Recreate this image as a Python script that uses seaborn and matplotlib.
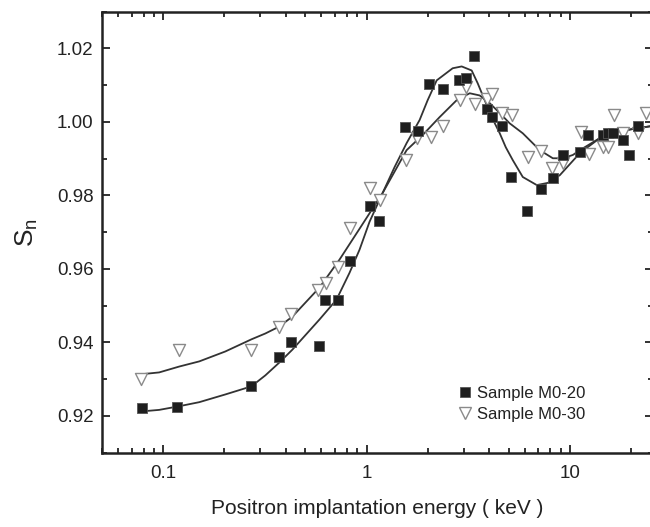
import numpy as np
import pandas as pd
import matplotlib
matplotlib.use("Agg")
import matplotlib.pyplot as plt
from matplotlib.lines import Line2D
from matplotlib.ticker import FixedLocator, MultipleLocator, LogLocator, NullFormatter
import seaborn as sns

# ---- data ----
m20_energy = [0.0788, 0.117, 0.271, 0.373, 0.427, 0.587, 0.628, 0.728, 0.834, 1.035,
              1.146, 1.54, 1.80, 2.04, 2.37, 2.84, 3.07, 3.37, 3.90, 4.13,
              4.62, 5.12, 6.13, 7.19, 8.24, 9.24, 11.2, 12.3, 14.5, 15.4,
              16.3, 18.2, 19.5, 21.6]
m20_s = [0.922, 0.9225, 0.928, 0.936, 0.940, 0.939, 0.9516, 0.9516, 0.962, 0.977,
         0.973, 0.9985, 0.9975, 1.0102, 1.009, 1.0115, 1.012, 1.018, 1.0034, 1.0012,
         0.999, 0.985, 0.9757, 0.9817, 0.9847, 0.991, 0.9918, 0.9964, 0.9964, 0.997,
         0.997, 0.995, 0.991, 0.9988]

m30_energy = [0.0779, 0.120, 0.271, 0.373, 0.427, 0.574, 0.635, 0.728, 0.825, 1.035,
              1.16, 1.56, 1.78, 2.07, 2.37, 2.87, 3.07, 3.40, 3.90, 4.13,
              4.62, 5.18, 6.21, 7.19, 8.15, 9.24, 11.3, 12.4, 14.5, 15.4,
              16.5, 18.2, 21.6, 23.7]
m30_s = [0.930, 0.938, 0.9378, 0.9443, 0.9478, 0.9543, 0.9562, 0.9606, 0.971, 0.982,
         0.9787, 0.9896, 0.9956, 0.9958, 0.9988, 1.0059, 1.0094, 1.0048, 1.0062, 1.0075,
         1.0024, 1.0018, 0.9904, 0.992, 0.9874, 0.9888, 0.9972, 0.9912, 0.9931, 0.9931,
         1.0018, 0.9969, 0.9969, 1.0023]

fit20_energy = [0.0788, 0.0955, 0.1199, 0.1504, 0.2020, 0.2714, 0.318, 0.3727, 0.4319, 0.5869,
                0.7115, 0.8246, 0.9238, 1.0346, 1.1989, 1.374, 1.574, 1.824, 1.998, 2.213,
                2.652, 2.938, 3.290, 3.523, 3.813, 4.129, 4.521, 4.84, 5.239, 5.868,
                6.878, 7.792, 8.928, 11.20, 14.05, 17.63, 24.78]
fit20_s = [0.9212, 0.9216, 0.9226, 0.9237, 0.9258, 0.9280, 0.9310, 0.9345, 0.9380, 0.9462,
           0.9516, 0.9589, 0.9652, 0.9728, 0.9806, 0.9877, 0.9942, 1.0005, 1.0059, 1.0113,
           1.0146, 1.0151, 1.0140, 1.0105, 1.0059, 1.0013, 0.9969, 0.9931, 0.9896, 0.9850,
           0.9828, 0.9834, 0.9855, 0.9915, 0.9956, 0.9975, 0.9988]

fit30_energy = [0.0779, 0.0955, 0.1199, 0.1504, 0.2020, 0.2714, 0.318, 0.3727, 0.4319, 0.5869,
                0.7362, 0.9238, 1.1989, 1.574, 1.909, 2.288, 2.775, 3.217, 3.603, 4.036,
                4.521, 5.063, 5.868, 7.116, 8.248, 9.237, 10.35, 11.20, 14.05, 17.63,
                24.78]
fit30_s = [0.9313, 0.9318, 0.9334, 0.9348, 0.9375, 0.9408, 0.9424, 0.9443, 0.9470, 0.9549,
           0.9625, 0.9709, 0.9806, 0.9923, 0.9967, 1.0013, 1.0059, 1.0078, 1.0072, 1.0051,
           1.0024, 0.9996, 0.9969, 0.9923, 0.9901, 0.9901, 0.9910, 0.9923, 0.9956, 0.9975,
           0.9988]

labels = ["Sample M0-20", "Sample M0-30"]
x_ticks = [0.1, 1, 10]
x_ticklabels = ["0.1", "1", "10"]
y_ticks = [0.92, 0.94, 0.96, 0.98, 1.00, 1.02]

# ---- style ----
sns.set_style("ticks")
plt.rcParams["font.family"] = ["Liberation Sans", "DejaVu Sans"]
plt.rcParams["mathtext.fontset"] = "custom"
plt.rcParams["mathtext.rm"] = "Liberation Sans"
plt.rcParams["mathtext.it"] = "Liberation Sans"

W, H = 650, 527
fig = plt.figure(figsize=(W / 100, H / 100), dpi=100)
left_px, right_px, top_px, bot_px = 102, 652.5, 11.7, 452.5
ax = fig.add_axes([left_px / W, 1 - bot_px / H, (right_px - left_px) / W, (bot_px - top_px) / H])

curve_col = "#333333"
fit20 = pd.DataFrame({"E": fit20_energy, "S": fit20_s})
fit30 = pd.DataFrame({"E": fit30_energy, "S": fit30_s})
sns.lineplot(data=fit20, x="E", y="S", ax=ax, color=curve_col, lw=1.3, sort=False, zorder=2)
sns.lineplot(data=fit30, x="E", y="S", ax=ax, color=curve_col, lw=1.3, sort=False, zorder=2)

d20 = pd.DataFrame({"E": m20_energy, "S": m20_s})
d30 = pd.DataFrame({"E": m30_energy, "S": m30_s})
sns.scatterplot(data=d30, x="E", y="S", ax=ax, marker="v", s=75, facecolor="white",
                edgecolor="#8a8a8a", linewidth=1.0, zorder=3)
sns.scatterplot(data=d20, x="E", y="S", ax=ax, marker="s", s=52, color="#1e1e1e",
                edgecolor="#555555", linewidth=0.6, zorder=4)

ax.set_xscale("log")
ax.set_xlim(0.05, 25.5)
ax.set_ylim(0.91, 1.03)

ax.xaxis.set_major_locator(FixedLocator(x_ticks))
ax.set_xticklabels(x_ticklabels)
ax.xaxis.set_minor_locator(LogLocator(base=10, subs=np.arange(2, 10)))
ax.xaxis.set_minor_formatter(NullFormatter())
ax.yaxis.set_major_locator(FixedLocator(y_ticks))
ax.set_yticklabels([f"{v:.2f}" for v in y_ticks])
ax.yaxis.set_minor_locator(MultipleLocator(0.01))

ax.tick_params(which="both", direction="in", top=True, right=True, colors="#222222",
               width=1.3, labelsize=13.5, labelcolor="#222222")
ax.tick_params(which="major", length=6)
ax.tick_params(which="minor", length=3.5)
ax.tick_params(axis="x", pad=9)
ax.tick_params(axis="y", pad=6)
for sp in ax.spines.values():
    sp.set_linewidth(1.8)
    sp.set_color("#222222")

ax.set_xlabel("Positron implantation energy ( keV )", fontsize=15, color="#222222", labelpad=12)
ax.set_ylabel(r"$\mathrm{S_n}$", fontsize=19, color="#222222", labelpad=12)

handles = [
    Line2D([], [], ls="none", marker="s", ms=7, mfc="#1e1e1e", mec="#555555", mew=0.6),
    Line2D([], [], ls="none", marker="v", ms=9, mfc="white", mec="#8a8a8a", mew=1.0),
]
ax.legend(handles, labels, loc="lower left", bbox_to_anchor=(0.633, 0.055), frameon=False,
          fontsize=12, handletextpad=0.2, labelspacing=0.35, handlelength=1.0,
          borderaxespad=0, labelcolor="#222222")

fig.savefig("out.png", dpi=100)
